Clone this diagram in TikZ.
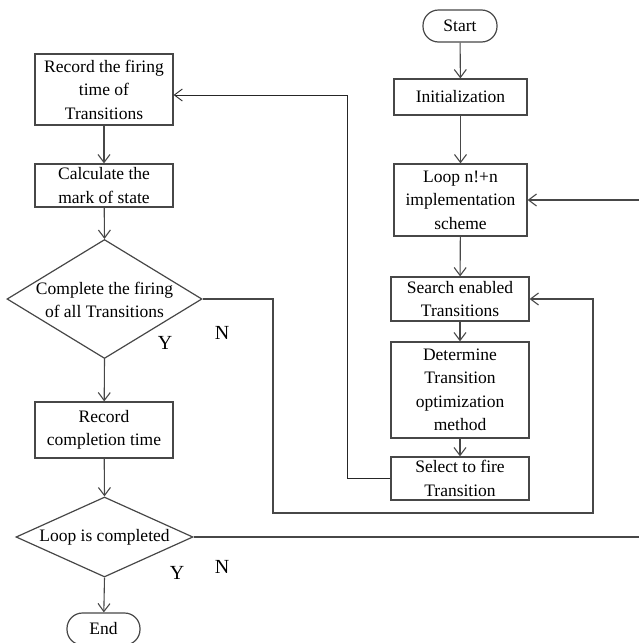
\documentclass[tikz,border=0pt]{standalone}
\usepackage{fontspec}
\setmainfont{Liberation Serif}
\usetikzlibrary{arrows.meta,shapes.geometric}
\begin{document}
\begin{tikzpicture}[x=1pt,y=-1pt,
  every node/.style={font=\fontsize{17.5}{23.5}\selectfont, align=center, inner sep=0pt},
  box/.style={draw=black!72, line width=1.2pt, rectangle, fill=white},
  term/.style={box, rounded corners=15.5pt},
  dia/.style={draw=black!72, line width=1.2pt, diamond, inner sep=0pt},
  lbl/.style={font=\fontsize{20}{24}\selectfont},
  arr/.style={draw=black!72, line width=1.1pt, -{Straight Barb[length=8pt,width=12pt]}},
  ln/.style={draw=black!72, line width=1.1pt}
]
\useasboundingbox (0,0) rectangle (639,643);
% right column
\node[term, minimum width=74, minimum height=32] (start) at (460,26) {Start};
\node[box, minimum width=133, minimum height=36] (init) at (460.5,97) {Initialization};
\node[box, minimum width=133, minimum height=72] (loop) at (460.5,200) {Loop n!+n\\implementation\\scheme};
\node[box, minimum width=138, minimum height=44] (search) at (460,299) {Search enabled\\Transitions};
\node[box, minimum width=138, minimum height=96] (det) at (460,390) {Determine\\Transition\\optimization\\method};
\node[box, minimum width=138, minimum height=43] (sel) at (460,478.5) {Select to fire\\Transition};
% left column
\node[box, minimum width=138, minimum height=71] (rec1) at (104,89.5) {Record the firing\\time of\\Transitions};
\node[box, minimum width=138, minimum height=43] (calc) at (104,185.5) {Calculate the\\mark of state};
\node[dia, minimum width=195, minimum height=119] (d1) at (104.5,299) {};
\node (d1t) at (104.5,300) {Complete the firing\\of all Transitions};
\node[box, minimum width=138, minimum height=56] (rec2) at (104,430) {Record\\completion time};
\node[dia, minimum width=177, minimum height=80] (d2) at (104.5,537) {};
\node (d2t) at (104.5,537) {Loop is completed};
\node[term, minimum width=73, minimum height=32] (end) at (103.5,629) {End};
% labels
\node[lbl] (y1) at (165,343) {Y};
\node[lbl] (n1) at (222,333) {N};
\node[lbl] (y2) at (177,573) {Y};
\node[lbl] (n2) at (222,567) {N};
% straight arrows
\draw[arr] (start) -- (init);
\draw[arr] (init) -- (loop);
\draw[arr] (loop) -- (search);
\draw[arr] (search) -- (det);
\draw[arr] (det) -- (sel);
\draw[arr] (rec1) -- (calc);
\draw[arr] (calc) -- (d1.north);
\draw[arr] (d1.south) -- (rec2);
\draw[arr] (rec2) -- (d2.north);
\draw[arr] (d2.south) -- (end);
% feedback lines
\coordinate (fa) at (347,478.5);
\coordinate (fb) at (347,95);
\draw[arr, draw=black!85, line width=0.9pt] (sel.west) -- (fa) -- (fb) -- (rec1.east |- fb);
\coordinate (na) at (273,299);
\coordinate (nb) at (273,513);
\coordinate (nc) at (593,513);
\coordinate (nd) at (593,299);
\draw[arr] (d1.east) -- (na) -- (nb) -- (nc) -- (nd) -- (search.east);
\coordinate (la) at (642,537);
\coordinate (lb) at (642,200);
\draw[arr] (d2.east) -- (la) -- (lb) -- (loop.east);
\end{tikzpicture}
\end{document}
